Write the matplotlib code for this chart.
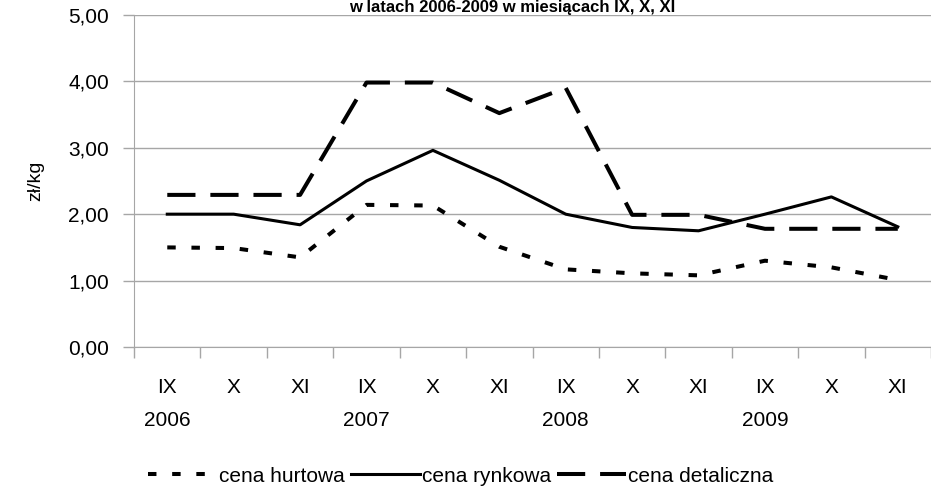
import matplotlib
matplotlib.use('Agg')
import matplotlib.pyplot as plt
from matplotlib.ticker import FixedLocator, FuncFormatter
import numpy as np

plt.rcParams['font.family'] = ['Liberation Sans', 'DejaVu Sans']

# data
months = ['IX', 'X', 'XI'] * 4
years = ['2006', '2007', '2008', '2009']
cena_hurtowa = [1.50, 1.49, 1.35, 2.14, 2.13, 1.51, 1.17, 1.11, 1.08, 1.30, 1.20, 1.01]
cena_rynkowa = [2.00, 2.00, 1.84, 2.50, 2.96, 2.51, 2.00, 1.80, 1.75, 2.00, 2.26, 1.81]
cena_detaliczna = [2.29, 2.29, 2.29, 3.98, 3.98, 3.52, 3.90, 1.99, 1.99, 1.78, 1.78, 1.78]

title = 'w latach 2006-2009 w miesiącach IX, X, XI'

fig = plt.figure(figsize=(9.31, 4.91), dpi=100)
ax = fig.add_axes([0.144, 0.293, 0.856, 0.677])

x = np.arange(len(months))
ax.plot(x, cena_hurtowa, color='black', lw=2.9, dashes=(2.1, 3.9),
        dash_capstyle='butt', label='cena hurtowa')
ax.plot(x, cena_rynkowa, color='black', lw=2.2, label='cena rynkowa')
ax.plot(x, cena_detaliczna, color='black', lw=2.9, dashes=(7, 3.7),
        dash_capstyle='butt', label='cena detaliczna')

ax.set_xlim(-0.5, len(months) - 0.5)
ax.set_ylim(0, 5)
ax.set_yticks(np.arange(0, 5.01, 1))
ax.yaxis.set_major_formatter(FuncFormatter(lambda v, p: f'{v:.2f}'.replace('.', ',')))
ax.grid(axis='y', color='#a6a6a6', lw=1)
ax.set_axisbelow(True)

ax.xaxis.set_major_locator(FixedLocator(np.arange(-0.5, len(months), 1)))
ax.xaxis.set_minor_locator(FixedLocator(x))
ax.set_xticklabels([], minor=False)
ax.set_xticklabels(months, minor=True)
ax.tick_params(axis='x', which='minor', length=0, pad=22, labelsize=15)
ax.tick_params(axis='x', which='major', length=8, width=1, color='#a6a6a6')
ax.tick_params(axis='y', length=8, width=1, color='#a6a6a6', labelsize=15, pad=10)

for s in ['top', 'right']:
    ax.spines[s].set_visible(False)
for s in ['left', 'bottom']:
    ax.spines[s].set_color('#a6a6a6')

for i, yr in enumerate(years):
    ax.text(i * 3, -0.22, yr, transform=ax.get_xaxis_transform(),
            ha='center', va='center', fontsize=15)

ax.set_ylabel('zł/kg', fontsize=14, labelpad=17)

fig.text(0.55, 0.999, title, ha='center', va='top', fontsize=12, fontweight='bold')

fig.legend(loc='center', bbox_to_anchor=(0.495, 0.03), ncol=3, frameon=False,
           fontsize=15, handlelength=3.3, handletextpad=0.1, columnspacing=0.3)

fig.savefig('out.png', dpi=100)
